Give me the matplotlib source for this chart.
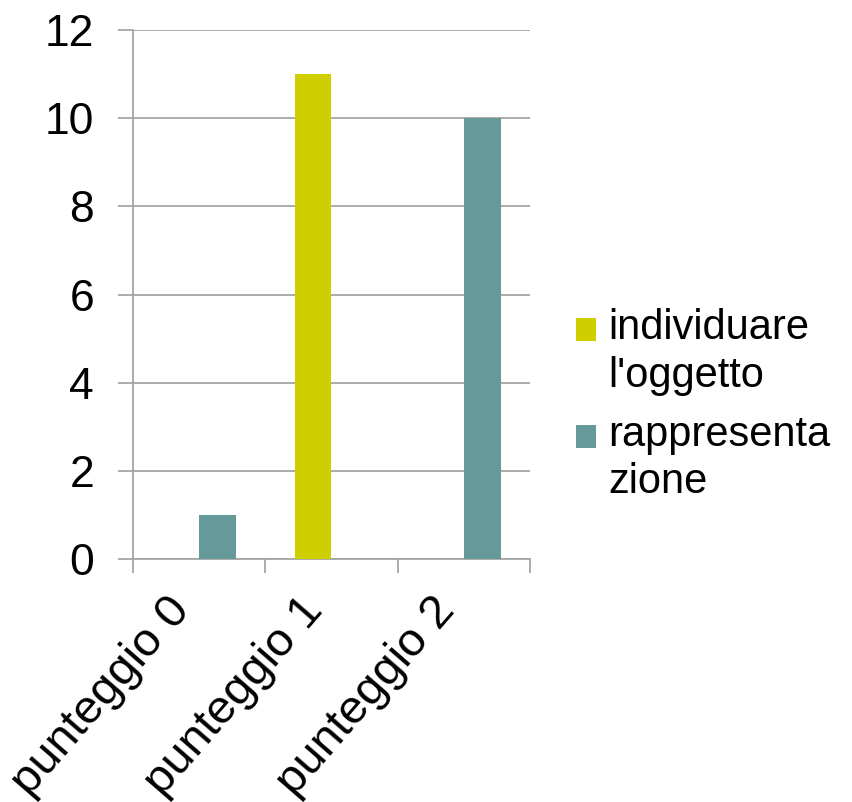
import matplotlib
matplotlib.use("Agg")
import matplotlib.pyplot as plt
from matplotlib.patches import Rectangle, Patch
from matplotlib.legend_handler import HandlerPatch
import numpy as np

categories = ["punteggio 0", "punteggio 1", "punteggio 2"]
series_names = ["individuare\nl'oggetto", "rappresenta\nzione"]
individuare = [0, 11, 0]
rappresentazione = [1, 0, 10]
colors = ["#CFCF00", "#669999"]
yticks = [0, 2, 4, 6, 8, 10, 12]

plt.rcParams['font.family'] = ['Liberation Sans', 'DejaVu Sans']

fig = plt.figure(figsize=(8.52, 8.02), dpi=100)
ax = fig.add_axes([133/852, 1 - 559/802, (530 - 133)/852, (559 - 30)/802])

x = np.arange(len(categories))
w = 0.278
ax.bar(x - w/2, individuare, width=w, color=colors[0], label=series_names[0], zorder=3)
ax.bar(x + w/2, rappresentazione, width=w, color=colors[1], label=series_names[1], zorder=3)

ax.set_xlim(-0.5, len(categories) - 0.5)
ax.set_ylim(0, 12)
ax.set_yticks(yticks)
ax.set_yticklabels([str(v) for v in yticks], fontsize=32)
ax.yaxis.grid(True, color="#A6A6A6", linewidth=1.3, zorder=0)
ax.set_axisbelow(True)

ax.set_xticks(np.arange(-0.5, len(categories)), minor=False)
ax.set_xticklabels([])
ax.set_xticks(x, minor=True)
ax.set_xticklabels(categories, minor=True, fontsize=34, rotation=49,
                   ha="right", rotation_mode="anchor", va="bottom")
ax.tick_params(axis="x", which="major", length=10, width=1.3, color="#A6A6A6", direction="out")
ax.tick_params(axis="x", which="minor", length=0, pad=42)
ax.tick_params(axis="y", length=11, width=1.3, color="#A6A6A6", direction="out", pad=17)

for s in ["top", "right"]:
    ax.spines[s].set_visible(False)
for s in ["left", "bottom"]:
    ax.spines[s].set_color("#A6A6A6")
    ax.spines[s].set_linewidth(1.3)


def first_line_patch(legend, orig_handle, xdescent, ydescent, width, height, fontsize):
    shift = 0.55 * fontsize
    return Rectangle((-xdescent, -ydescent + shift), width, height)


handler = HandlerPatch(patch_func=first_line_patch)
handles = [Patch(facecolor=c, edgecolor="none") for c in colors]
leg = fig.legend(handles, series_names, loc="upper left", bbox_to_anchor=(576/852, 1 - 308/802),
                 frameon=False, fontsize=30, handlelength=0.48, handleheight=0.48,
                 handletextpad=0.3, labelspacing=0.45, borderaxespad=0, borderpad=0,
                 handler_map={Patch: handler})
for t in leg.get_texts():
    t.set_linespacing(1.25)

fig.savefig("out.png", dpi=100)
